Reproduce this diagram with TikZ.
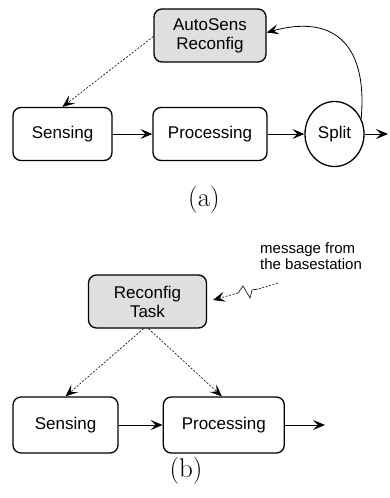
\documentclass[tikz,border=0pt]{standalone}
\usepackage{fontspec}
\setsansfont{Liberation Sans}
\usetikzlibrary{arrows.meta,shapes.geometric}
\begin{document}
\begin{tikzpicture}[x=1pt,y=1pt,
  task/.style={draw,line width=1.3pt,rounded corners=8pt,align=center,
    font=\sffamily\fontsize{17}{19}\selectfont,inner sep=0pt},
  shaded/.style={task,fill=gray!25},
  flow/.style={line width=0.9pt,-{Stealth[length=12pt,width=10pt,inset=5pt]}},
  ctrl/.style={line width=0.6pt,dash pattern=on 2pt off 1.6pt,-{Stealth[length=12pt,width=10pt,inset=5pt]}},
  figcap/.style={font=\fontsize{27}{30}\selectfont}]
\useasboundingbox (0,0) rectangle (389,-498);
% (a)
\node[shaded,minimum width=112pt,minimum height=53pt] (auto) at (210,-35.5) {AutoSens\\Reconfig};
\node[task,minimum width=99pt,minimum height=53pt] (sensA) at (62.5,-134) {Sensing};
\node[task,minimum width=114pt,minimum height=53pt] (procA) at (210,-134) {Processing};
\node[draw,line width=1.3pt,ellipse,minimum width=59pt,minimum height=65pt,inner sep=0pt,
  font=\sffamily\fontsize{17}{19}\selectfont] (split) at (334.5,-134) {Split};
\coordinate (outA) at (388,-134);
\draw[flow] (sensA) -- (procA);
\draw[flow] (procA) -- (split);
\draw[flow] (split) -- (outA);
\draw[line width=0.8pt,-{Stealth[length=12pt,width=10pt,inset=5pt]}]
  (split.30) .. controls (368,-40) and (330,-15) .. ([yshift=3pt]auto.east);
\draw[ctrl] ([yshift=-1pt]auto.west) -- (sensA.north);
\node[figcap] (capA) at (204,-200) {(a)};
% (b)
\node[shaded,minimum width=118pt,minimum height=53pt] (rt) at (147.5,-301.5) {Reconfig\\Task};
\node[task,minimum width=105pt,minimum height=56pt] (sensB) at (65.5,-425) {Sensing};
\node[task,minimum width=121pt,minimum height=56pt] (procB) at (223.8,-425) {Processing};
\coordinate (outB) at (325,-425);
\draw[flow] (sensB) -- (procB);
\draw[flow] (procB) -- (outB);
\draw[ctrl] ([xshift=-4pt]rt.south) -- (sensB.north);
\draw[ctrl] ([xshift=1pt]rt.south) -- ([xshift=-2pt]procB.north);
\node[anchor=north west,inner sep=0pt,align=left,
  font=\sffamily\fontsize{15}{16}\selectfont] (msg) at (260,-242) {message from\\the basestation};
\coordinate (m0) at (278,-283);
\coordinate (m1) at (258,-289);
\coordinate (m2) at (252,-290);
\coordinate (m3) at (250,-298);
\coordinate (m4) at (243,-286);
\coordinate (m5) at (238,-293);
\coordinate (m6) at (213,-300);
\draw[line width=0.6pt,dash pattern=on 2pt off 1.6pt] (m0) -- (m1);
\draw[line width=0.6pt] (m1) -- (m2) -- (m3) -- (m4) -- (m5);
\draw[ctrl] (m5) -- (m6);
\node[figcap] (capB) at (186,-471) {(b)};
\end{tikzpicture}
\end{document}
